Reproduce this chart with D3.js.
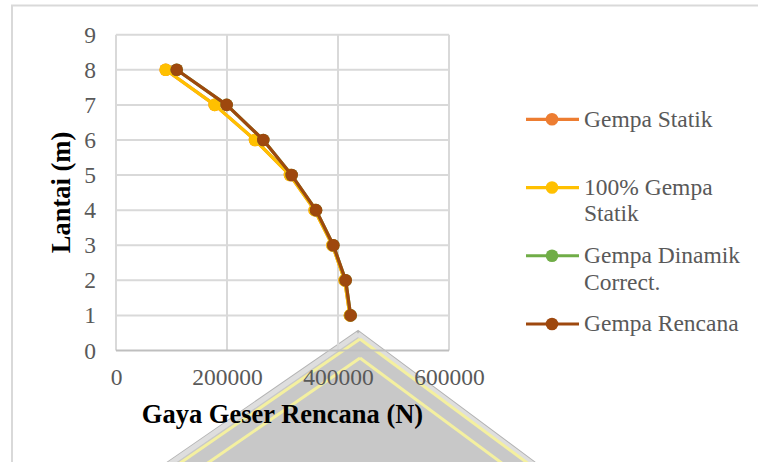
<!DOCTYPE html>
<html>
<head>
<meta charset="utf-8">
<script src="https://cdn.jsdelivr.net/npm/d3@7"></script>
<style>
  body { margin: 0; background: #fff; }
  svg { display: block; }
</style>
</head>
<body>
<script>
// data
var floors = [1, 2, 3, 4, 5, 6, 7, 8];
var gempaStatik = [421500, 412000, 390000, 358000, 313500, 250500, 177800, 89500];
var gempaStatik100 = [421500, 412000, 390000, 358000, 313500, 250500, 177800, 89500];
var gempaDinamik = [422800, 413800, 391600, 360400, 316500, 265400, 199400, 109400];
var gempaRencana = [422800, 413800, 391600, 360400, 316500, 265400, 199400, 109400];

var seriesNames = ["Gempa Statik", "100% Gempa Statik", "Gempa Dinamik Correct.", "Gempa Rencana"];
var seriesColors = ["#ED7D31", "#FFC000", "#70AD47", "#9E480E"];
var xTicks = [0, 200000, 400000, 600000];
var yTicks = [0, 1, 2, 3, 4, 5, 6, 7, 8, 9];

var svgWidth = 758, svgHeight = 462;
var font = "'Liberation Serif', 'Times New Roman', serif";
var gridColor = '#d9d9d9';
var textColor = '#595959';

var x = d3.scaleLinear().domain([0, 600000]).range([116, 449]);
var y = d3.scaleLinear().domain([0, 9]).range([350.5, 34.7]);

var svg = d3.select("body").append("svg")
  .attr("width", svgWidth)
  .attr("height", svgHeight);

//===========//
// Watermark //
//===========//
var wm = svg.append("g");
wm.append("path")
  .attr("d", "M358,331 L135,485 L565,485 Z")
  .style("fill", "#c8c8c8")
  .style("stroke", "#b4b4b4")
  .style("stroke-width", 2);
wm.append("path")
  .attr("d", "M358,334 L139,485 M358,334 L561,485")
  .style("fill", "none")
  .style("stroke", "#dedede")
  .style("stroke-width", 5);
[339, 358].forEach(function(ay) {
  wm.append("path")
    .attr("d", "M360," + ay + " L" + (360 - 1.45 * (485 - ay)) + ",485 M360," + ay + " L" + (360 + 1.35 * (485 - ay)) + ",485")
    .style("fill", "none")
    .style("stroke", "#f4f0a0")
    .style("stroke-width", 3);
});

// chart border
svg.append("rect")
  .attr("x", 12)
  .attr("y", 5.5)
  .attr("width", svgWidth)
  .attr("height", svgHeight)
  .style("fill", "none")
  .style("stroke", gridColor)
  .style("stroke-width", 2);

//======//
// Grid //
//======//
svg.selectAll(".hgrid")
  .data(yTicks.slice(1))
  .enter().append("line")
  .attr("class", "hgrid")
  .attr("x1", x(0)).attr("x2", x(600000))
  .attr("y1", function(d) { return y(d); })
  .attr("y2", function(d) { return y(d); })
  .style("stroke", gridColor)
  .style("stroke-width", 2);

svg.selectAll(".vgrid")
  .data(xTicks)
  .enter().append("line")
  .attr("class", "vgrid")
  .attr("x1", function(d) { return x(d); })
  .attr("x2", function(d) { return x(d); })
  .attr("y1", y(9)).attr("y2", y(0))
  .style("stroke", gridColor)
  .style("stroke-width", 2);

// bottom axis line
svg.append("line")
  .attr("x1", x(0)).attr("x2", x(600000))
  .attr("y1", y(0)).attr("y2", y(0))
  .style("stroke", "#bfbfbf")
  .style("stroke-width", 2);

//======//
// Axes //
//======//
var xAxis = svg.append("g")
  .attr("transform", "translate(0," + y(0) + ")")
  .call(d3.axisBottom(x).tickValues(xTicks).tickSize(0).tickPadding(18).tickFormat(d3.format("d")));
xAxis.select(".domain").remove();
xAxis.selectAll("text")
  .style("font-family", font)
  .style("font-size", "23.5px")
  .style("fill", textColor);

var yAxis = svg.append("g")
  .attr("transform", "translate(" + x(0) + ",0)")
  .call(d3.axisLeft(y).tickValues(yTicks).tickSize(0).tickPadding(20).tickFormat(d3.format("d")));
yAxis.select(".domain").remove();
yAxis.selectAll("text")
  .style("font-family", font)
  .style("font-size", "23.5px")
  .style("fill", textColor);

// axis titles
svg.append("text")
  .attr("x", 282.5)
  .attr("y", 423)
  .attr("text-anchor", "middle")
  .style("font-family", font)
  .style("font-size", "26.5px")
  .style("font-weight", "bold")
  .text("Gaya Geser Rencana (N)");

svg.append("text")
  .attr("transform", "translate(70,192.5) rotate(-90)")
  .attr("text-anchor", "middle")
  .style("font-family", font)
  .style("font-size", "26.5px")
  .style("font-weight", "bold")
  .text("Lantai (m)");

//========//
// Series //
//========//
var allSeries = [gempaStatik, gempaStatik100, gempaDinamik, gempaRencana];

var line = d3.line()
  .x(function(d) { return x(d[0]); })
  .y(function(d) { return y(d[1]); });

allSeries.forEach(function(vals, i) {
  var pts = vals.map(function(v, j) { return [v, floors[j]]; });
  svg.append("path")
    .datum(pts)
    .attr("d", line)
    .style("fill", "none")
    .style("stroke", seriesColors[i])
    .style("stroke-width", 3.2)
    .style("stroke-linejoin", "round");
  svg.selectAll(".dot" + i)
    .data(pts)
    .enter().append("circle")
    .attr("class", "dot" + i)
    .attr("r", 6.3)
    .attr("cx", function(d) { return x(d[0]); })
    .attr("cy", function(d) { return y(d[1]); })
    .style("fill", seriesColors[i]);
});

//========//
// Legend //
//========//
var legendY = d3.scaleLinear().domain([0, 3]).range([119.3, 324]);
var legend = svg.selectAll(".legend")
  .data(seriesNames)
  .enter().append("g")
  .attr("class", "legend")
  .attr("transform", function(d, i) { return "translate(0," + legendY(i) + ")"; });

legend.append("line")
  .attr("x1", 526).attr("x2", 579)
  .attr("y1", 0).attr("y2", 0)
  .style("stroke", function(d, i) { return seriesColors[i]; })
  .style("stroke-width", 3.2);
legend.append("circle")
  .attr("cx", 552).attr("cy", 0).attr("r", 6.3)
  .style("fill", function(d, i) { return seriesColors[i]; });

legend.each(function(name) {
  var t = d3.select(this).append("text")
    .attr("x", 584)
    .attr("y", 7.3)
    .style("font-family", font)
    .style("font-size", "23.5px")
    .style("fill", textColor);
  // simple word wrap
  var words = name.split(" "), lineWords = [];
  var tspan = t.append("tspan").attr("x", 584).attr("dy", 0);
  words.forEach(function(w) {
    lineWords.push(w);
    tspan.text(lineWords.join(" "));
    if (tspan.node().getComputedTextLength() > 168 && lineWords.length > 1) {
      lineWords.pop();
      tspan.text(lineWords.join(" "));
      lineWords = [w];
      tspan = t.append("tspan").attr("x", 584).attr("dy", 26.5).text(w);
    }
  });
});
</script>
</body>
</html>
